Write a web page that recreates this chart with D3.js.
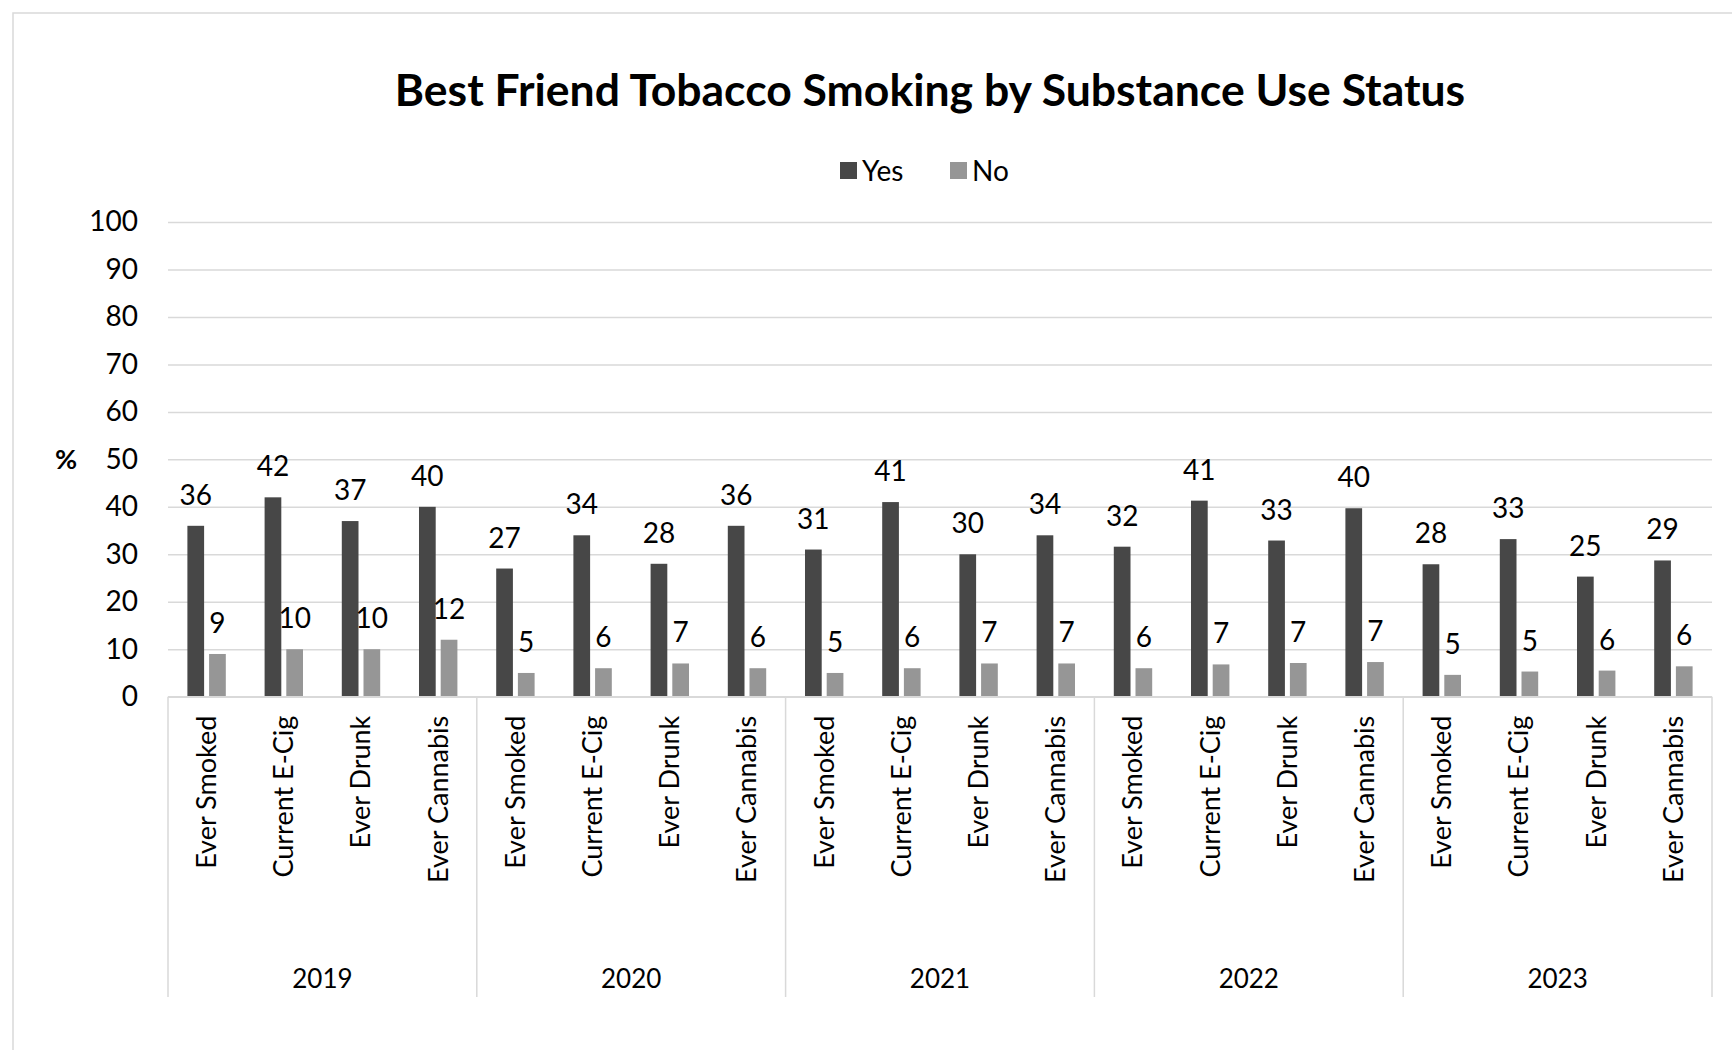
<!DOCTYPE html>
<html>
<head>
<meta charset="utf-8">
<script src="https://cdn.jsdelivr.net/npm/d3@7"></script>
<style>
    body { margin: 0; background: #fff; }
    #chart1 { width: 1732px; height: 1050px; }
    text { font-family: Lato, "Open Sans", sans-serif; fill: #000; }
</style>
</head>
<body>
<div id="chart1"></div>
<script>

var years = ["2019", "2020", "2021", "2022", "2023"];
var categories = ["Ever Smoked", "Current E-Cig", "Ever Drunk", "Ever Cannabis"];
var seriesNames = ["Yes", "No"];

// one value per year x category, in order
var yesValues = [36, 42, 37, 40,  27, 34, 28, 36,  31, 41, 30, 34,  31.6, 41.3, 32.9, 39.7,  27.9, 33.2, 25.3, 28.7];
var noValues  = [9, 10, 10, 12,   5, 6, 7, 6,      5, 6, 7, 7,      6, 6.8, 7.1, 7.3,        4.6, 5.3, 5.5, 6.4];

var yTicks = [0, 10, 20, 30, 40, 50, 60, 70, 80, 90, 100];

var colors = { "Yes": "#474747", "No": "#969696" };

var width = 1732;
var height = 1050;

var svg = d3.select("#chart1")
    .append("svg")
    .attr("width", width)
    .attr("height", height);

// outer chart border
svg.append("rect")
    .attr("x", 13)
    .attr("y", 13)
    .attr("width", 1800)
    .attr("height", 1200)
    .attr("fill", "none")
    .attr("stroke", "#d9d9d9")
    .attr("stroke-width", 1.5);

var plotLeft = 168, plotRight = 1712, plotTop = 222, plotBottom = 696.7;

var rows = [];
years.forEach(function(y, yi) {
    categories.forEach(function(c, ci) {
        var i = yi * categories.length + ci;
        rows.push({ i: i, year: y, cat: c, Yes: yesValues[i], No: noValues[i] });
    });
});

var xScale = d3.scaleBand()
    .domain(rows.map(function(d) { return d.i; }))
    .range([plotLeft, plotRight])
    .padding(0);

var xInner = d3.scaleBand()
    .domain(seriesNames)
    .range([0, xScale.bandwidth()])
    .paddingInner(0.23)
    .paddingOuter(0.894);

var yScale = d3.scaleLinear()
    .domain([0, 100])
    .range([plotBottom, plotTop]);

// gridlines + y labels
var yAxis = svg.append("g")
    .attr("class", "yAxis")
    .attr("transform", "translate(" + plotLeft + ",0)")
    .call(d3.axisLeft(yScale)
        .tickValues(yTicks)
        .tickSizeInner(-(plotRight - plotLeft))
        .tickSizeOuter(0)
        .tickPadding(30));

yAxis.select(".domain").remove();
yAxis.selectAll("line")
    .attr("stroke", "#d9d9d9")
    .attr("stroke-width", 1.5);
yAxis.selectAll("text")
    .style("font-size", "28px")
    .attr("fill", "#000");

svg.append("text")
    .attr("x", 66)
    .attr("y", yScale(50))
    .attr("dy", "0.35em")
    .attr("text-anchor", "middle")
    .style("font-size", "27px")
    .style("font-weight", "bold")
    .text("%");

// bars
var groups = svg.selectAll("g.cat")
    .data(rows)
    .enter()
    .append("g")
        .attr("class", "cat")
        .attr("transform", function(d) { return "translate(" + xScale(d.i) + ",0)"; });

var bars = groups.selectAll("rect")
    .data(function(d) {
        return seriesNames.map(function(s) { return { key: s, value: d[s] }; });
    })
    .enter();

bars.append("rect")
    .attr("x", function(d) { return xInner(d.key); })
    .attr("y", function(d) { return yScale(d.value); })
    .attr("width", xInner.bandwidth())
    .attr("height", function(d) { return yScale(0) - yScale(d.value); })
    .attr("fill", function(d) { return colors[d.key]; });

bars.append("text")
    .attr("x", function(d) { return xInner(d.key) + xInner.bandwidth() / 2; })
    .attr("y", function(d) { return yScale(d.value) - 21; })
    .attr("text-anchor", "middle")
    .style("font-size", "28px")
    .text(function(d) { return d3.format(".0f")(d.value); });

// category axis
svg.append("line")
    .attr("x1", plotLeft).attr("x2", plotRight)
    .attr("y1", plotBottom).attr("y2", plotBottom)
    .attr("stroke", "#d9d9d9")
    .attr("stroke-width", 1.5);

var xAxis = svg.append("g")
    .attr("class", "xAxis")
    .attr("transform", "translate(0," + plotBottom + ")")
    .call(d3.axisBottom(xScale)
        .tickSize(0)
        .tickFormat(function(i) { return categories[i % categories.length]; }));

xAxis.select(".domain").remove();
xAxis.selectAll("text")
    .attr("transform", "rotate(-90)")
    .attr("x", -19)
    .attr("y", 0)
    .attr("dy", "0.35em")
    .attr("text-anchor", "end")
    .attr("fill", "#000")
    .style("font-size", "27px");

// year level
var yearScale = d3.scaleBand()
    .domain(years)
    .range([plotLeft, plotRight]);

svg.selectAll("line.sep")
    .data(d3.range(years.length + 1))
    .enter()
    .append("line")
        .attr("class", "sep")
        .attr("x1", function(k) { return plotLeft + k * yearScale.step(); })
        .attr("x2", function(k) { return plotLeft + k * yearScale.step(); })
        .attr("y1", plotBottom)
        .attr("y2", 997)
        .attr("stroke", "#d9d9d9")
        .attr("stroke-width", 1.5);

svg.selectAll("text.year")
    .data(years)
    .enter()
    .append("text")
        .attr("class", "year")
        .attr("x", function(d) { return yearScale(d) + yearScale.bandwidth() / 2; })
        .attr("y", 988)
        .attr("text-anchor", "middle")
        .style("font-size", "26px")
        .text(function(d) { return d; });

// title
svg.append("text")
    .attr("x", 930)
    .attr("y", 106)
    .attr("text-anchor", "middle")
    .style("font-size", "44.5px")
    .style("font-weight", "bold")
    .text("Best Friend Tobacco Smoking by Substance Use Status");

// legend
var legendX = [840, 950];
var legend = svg.selectAll("g.legend")
    .data(seriesNames)
    .enter()
    .append("g")
        .attr("class", "legend")
        .attr("transform", function(d, i) { return "translate(" + legendX[i] + ",162)"; });

legend.append("rect")
    .attr("width", 17)
    .attr("height", 17)
    .attr("fill", function(d) { return colors[d]; });

legend.append("text")
    .attr("x", 22)
    .attr("y", 9)
    .attr("dy", "0.35em")
    .style("font-size", "28px")
    .text(function(d) { return d; });

</script>
</body>
</html>
